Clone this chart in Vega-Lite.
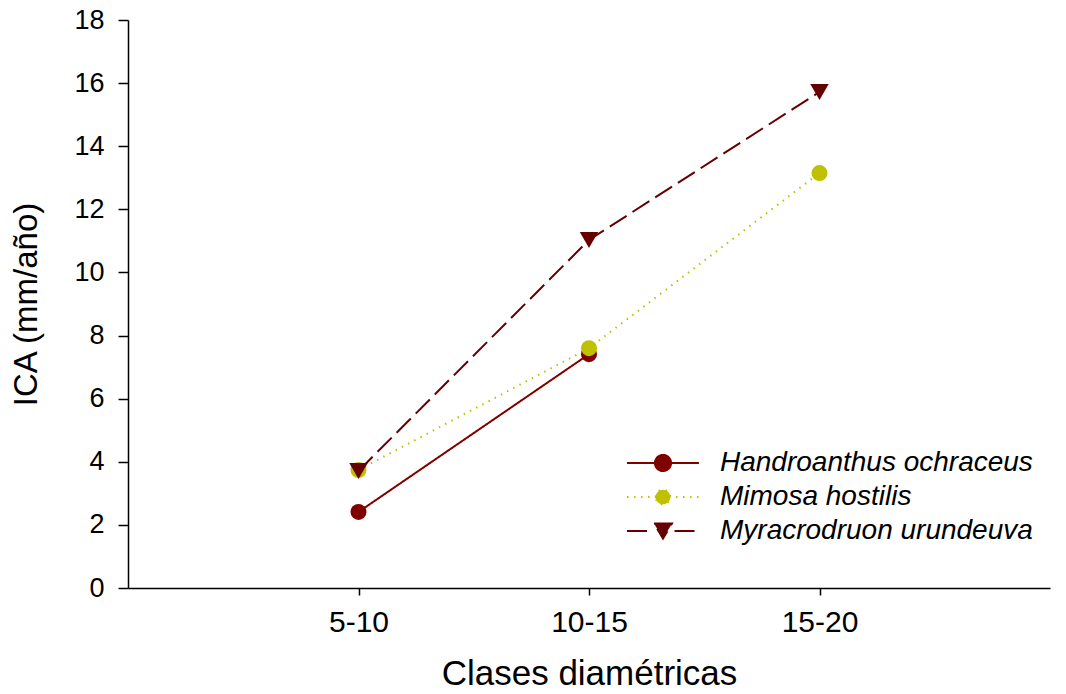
{
  "$schema": "https://vega.github.io/schema/vega-lite/v6.json",
  "autosize": "none",
  "width": 922,
  "height": 568,
  "padding": {"left": 128, "top": 20, "right": 16, "bottom": 106},
  "background": "white",
  "config": {
    "view": {"stroke": null},
    "font": "Liberation Sans",
    "axis": {
      "grid": false,
      "domainColor": "black",
      "domainWidth": 1.5,
      "tickColor": "black",
      "tickWidth": 1.5,
      "labelColor": "black",
      "titleColor": "black",
      "labelFont": "Liberation Sans",
      "titleFont": "Liberation Sans",
      "titleFontWeight": "normal"
    }
  },
  "data": {
    "values": [
      {"clase": "5-10", "species": "Handroanthus ochraceus", "ica": 2.41},
      {"clase": "10-15", "species": "Handroanthus ochraceus", "ica": 7.41},
      {"clase": "5-10", "species": "Mimosa hostilis", "ica": 3.74},
      {"clase": "10-15", "species": "Mimosa hostilis", "ica": 7.6},
      {"clase": "15-20", "species": "Mimosa hostilis", "ica": 13.15},
      {"clase": "5-10", "species": "Myracrodruon urundeuva", "ica": 3.71},
      {"clase": "10-15", "species": "Myracrodruon urundeuva", "ica": 11.03},
      {"clase": "15-20", "species": "Myracrodruon urundeuva", "ica": 15.72}
    ]
  },
  "encoding": {
    "x": {
      "field": "clase",
      "type": "ordinal",
      "scale": {"type": "point", "domain": ["5-10", "10-15", "15-20"], "padding": 1},
      "axis": {
        "title": "Clases diamétricas",
        "labelAngle": 0,
        "labelFontSize": 30,
        "labelPadding": 12,
        "tickSize": 7,
        "titleFontSize": 35,
        "titlePadding": 19
      }
    },
    "y": {
      "field": "ica",
      "type": "quantitative",
      "scale": {"domain": [0, 18], "nice": false, "zero": true},
      "axis": {
        "title": "ICA (mm/año)",
        "values": [0, 2, 4, 6, 8, 10, 12, 14, 16, 18],
        "labelFontSize": 27,
        "labelPadding": 14,
        "tickSize": 10,
        "titleFontSize": 33,
        "titlePadding": 30
      }
    }
  },
  "layer": [
    {
      "mark": {"type": "line", "strokeWidth": 2},
      "encoding": {
        "stroke": {
          "field": "species",
          "type": "nominal",
          "scale": {"range": ["#800000", "#bfc000", "#660000"]},
          "legend": {
            "title": null,
            "orient": "none",
            "legendX": 499,
            "legendY": 429,
            "padding": 0,
            "symbolType": "M-5,0L5,0",
            "symbolSize": 207,
            "symbolStrokeWidth": 2,
            "symbolOffset": 22,
            "labelOffset": 43,
            "labelFontSize": 28,
            "labelFontStyle": "italic",
            "labelFont": "Liberation Sans",
            "labelColor": "black",
            "rowPadding": 6,
            "labelLimit": 500,
            "clipHeight": 28,
            "encode": {
              "symbols": {
                "update": {
                  "shape": {"signal": "datum.value === 'Myracrodruon urundeuva' ? 'M-5,0L-1.6,0M1.6,0L5,0M-1.25,-1.05L1.25,-1.05L0,1.05Z' : datum.value === 'Mimosa hostilis' ? 'M-5,0L5,0M-1.02,0A1.02,1.02 0 1,1 1.02,0A1.02,1.02 0 1,1 -1.02,0Z' : 'M-5,0L5,0M-1.12,0A1.12,1.12 0 1,1 1.12,0A1.12,1.12 0 1,1 -1.12,0Z'"},
                  "fill": {"scale": "stroke", "field": "value"},
                  "fillOpacity": {"value": 1}
                }
              }
            }
          }
        },
        "strokeDash": {
          "field": "species",
          "type": "nominal",
          "scale": {"range": [[1, 0], [1.5, 5.5], [20, 7]]},
          "legend": {
            "title": null,
            "orient": "none",
            "legendX": 499,
            "legendY": 429,
            "padding": 0,
            "symbolType": "M-5,0L5,0",
            "symbolSize": 207,
            "symbolStrokeWidth": 2,
            "symbolOffset": 22,
            "labelOffset": 43,
            "labelFontSize": 28,
            "labelFontStyle": "italic",
            "labelFont": "Liberation Sans",
            "labelColor": "black",
            "rowPadding": 6,
            "labelLimit": 500,
            "clipHeight": 28
          }
        }
      }
    },
    {
      "transform": [{"filter": "datum.species !== 'Myracrodruon urundeuva'"}],
      "mark": {"type": "point", "filled": true, "opacity": 1, "strokeWidth": 0, "size": 256},
      "encoding": {
        "fill": {
          "field": "species",
          "type": "nominal",
          "scale": {"range": ["#800000", "#bfc000", "#660000"]},
          "legend": null
        },
        "shape": {
          "field": "species",
          "type": "nominal",
          "scale": {"range": ["circle", "circle", "triangle-down"]},
          "legend": null
        }
      }
    },
    {
      "transform": [{"filter": "datum.species === 'Myracrodruon urundeuva'"}],
      "mark": {"type": "point", "filled": true, "opacity": 1, "strokeWidth": 0, "size": 340, "shape": "triangle-down", "color": "#660000"},
      "encoding": {}
    }
  ]
}
